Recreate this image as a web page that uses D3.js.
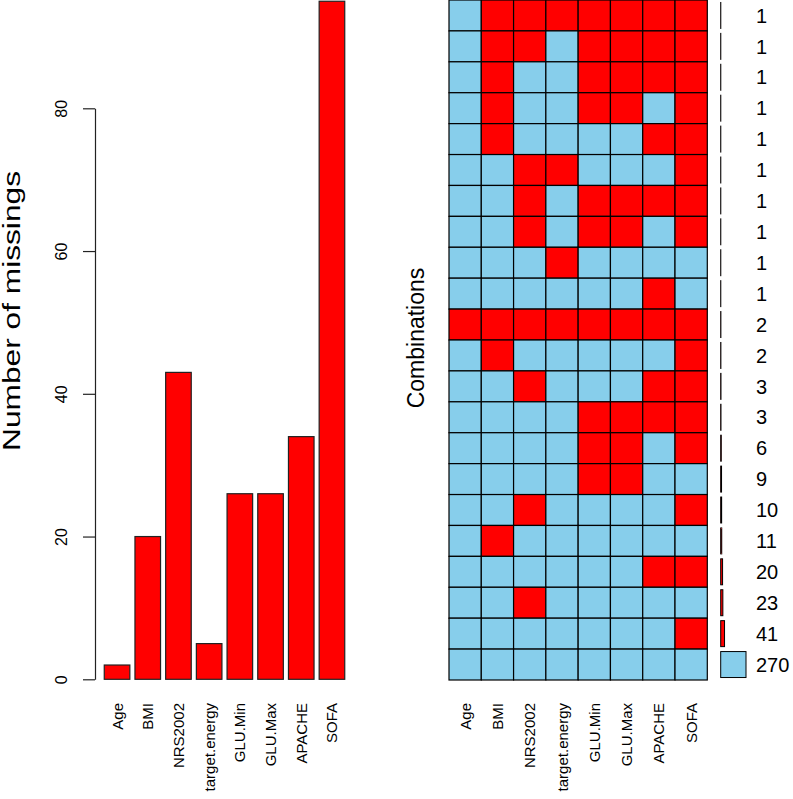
<!DOCTYPE html>
<html><head><meta charset="utf-8">
<script src="https://cdn.jsdelivr.net/npm/d3@7"></script>
<style>body{margin:0;background:#fff}svg{display:block}text{font-family:"Liberation Sans",Arial,sans-serif;fill:#000}</style>
</head><body><svg id="c" width="793" height="799"></svg>
<script>
const variables = ["Age","BMI","NRS2002","target.energy","GLU.Min","GLU.Max","APACHE","SOFA"];
const missingCounts = [2,20,43,5,26,26,34,95];
const yTicks = [0,20,40,60,80];
// missing patterns (1 = missing), top row first
const patterns = [
  [0,1,1,1,1,1,1,1],
  [0,1,1,0,1,1,1,1],
  [0,1,0,0,1,1,1,1],
  [0,1,0,0,1,1,0,1],
  [0,1,0,0,0,0,1,1],
  [0,0,1,1,0,0,0,1],
  [0,0,1,0,1,1,1,1],
  [0,0,1,0,1,1,0,1],
  [0,0,0,1,0,0,0,0],
  [0,0,0,0,0,0,1,0],
  [1,1,1,1,1,1,1,1],
  [0,1,0,0,0,0,0,1],
  [0,0,1,0,0,0,1,1],
  [0,0,0,0,1,1,1,1],
  [0,0,0,0,1,1,0,1],
  [0,0,0,0,1,1,0,0],
  [0,0,1,0,0,0,0,1],
  [0,1,0,0,0,0,0,0],
  [0,0,0,0,0,0,1,1],
  [0,0,1,0,0,0,0,0],
  [0,0,0,0,0,0,0,1],
  [0,0,0,0,0,0,0,0]
];
const combCounts = [1,1,1,1,1,1,1,1,1,1,2,2,3,3,6,9,10,11,20,23,41,270];

const RED = "#FF0000", BLUE = "#87CEEB";
const svg = d3.select("#c");

// ---------- left: bar chart ----------
const xL = d3.scaleBand().domain(variables).range([101.7, 347.3]).paddingInner(1/6).paddingOuter(1/12);
const yL = d3.scaleLinear().domain([0, 80]).range([679.3, 108.3]);

svg.append("g").selectAll("rect").data(variables).join("rect")
  .attr("x", d => xL(d)).attr("width", xL.bandwidth())
  .attr("y", (d,i) => yL(missingCounts[i]))
  .attr("height", (d,i) => yL(0) - yL(missingCounts[i]))
  .attr("fill", RED).attr("stroke", "#222").attr("stroke-width", 1.2);

const ax = svg.append("g").attr("transform", "translate(95,0)")
  .call(d3.axisLeft(yL).tickValues(yTicks).tickSize(12).tickSizeOuter(0).tickFormat(d3.format("d")));
ax.select(".domain").attr("stroke", "#222").attr("stroke-width", 1.2);
ax.selectAll(".tick line").attr("stroke", "#222").attr("stroke-width", 1.2);
ax.selectAll(".tick text").attr("transform", "rotate(-90)").attr("x", 0).attr("y", -28).attr("dy", 0)
  .attr("text-anchor", "middle").style("font-size", "16px").style("font-family", "Liberation Sans, Arial, sans-serif").attr("fill", "#000");

svg.append("g").selectAll("text").data(variables).join("text")
  .attr("transform", d => `translate(${xL(d) + xL.bandwidth()/2 + 5.5},703) rotate(-90)`)
  .attr("text-anchor", "end").style("font-size", "15px").text(d => d);

svg.append("text").attr("transform", "translate(20,311) rotate(-90)")
  .attr("text-anchor", "middle").style("font-size", "23px")
  .attr("textLength", 280).attr("lengthAdjust", "spacingAndGlyphs")
  .text("Number of missings");

// ---------- right: combinations grid ----------
const xR = d3.scaleBand().domain(variables).range([449, 707.3]);
const yR = d3.scaleBand().domain(d3.range(patterns.length)).range([0, 680]);

const rows = svg.append("g").selectAll("g").data(patterns).join("g")
  .attr("transform", (d,i) => `translate(0,${yR(i)})`);
rows.selectAll("rect").data(d => d).join("rect")
  .attr("x", (d,j) => xR(variables[j])).attr("width", xR.bandwidth())
  .attr("y", 0).attr("height", yR.bandwidth())
  .attr("fill", d => d ? RED : BLUE).attr("stroke", "#000").attr("stroke-width", 1.2);

// proportion bars
const wR = d3.scaleLinear().domain([0, d3.max(combCounts)]).range([0, 25.3]);
const bh = yR.bandwidth() * 0.84;
svg.append("g").selectAll("rect").data(combCounts).join("rect")
  .attr("x", 720.7).attr("width", d => wR(d))
  .attr("y", (d,i) => yR(i) + (yR.bandwidth() - bh)/2).attr("height", bh)
  .attr("fill", (d,i) => d3.sum(patterns[i]) === 0 ? BLUE : RED)
  .attr("stroke", "#000").attr("stroke-width", 1);

svg.append("g").selectAll("text").data(combCounts).join("text")
  .attr("x", 756).attr("y", (d,i) => yR(i) + yR.bandwidth()/2)
  .attr("dy", "0.36em").style("font-size", "20px").text(d => d);

svg.append("g").selectAll("text").data(variables).join("text")
  .attr("transform", d => `translate(${xR(d) + xR.bandwidth()/2 + 5.5},703) rotate(-90)`)
  .attr("text-anchor", "end").style("font-size", "15px").text(d => d);

svg.append("text").attr("transform", "translate(424,338) rotate(-90)")
  .attr("text-anchor", "middle").style("font-size", "23px").text("Combinations");
</script></body></html>
